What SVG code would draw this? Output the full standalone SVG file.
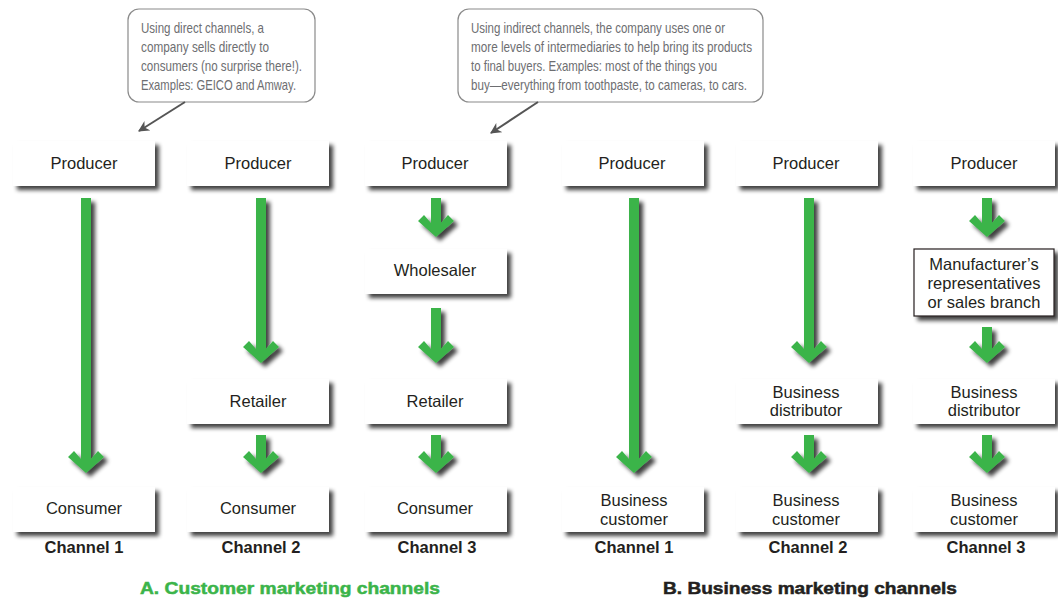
<svg xmlns="http://www.w3.org/2000/svg" width="1058" height="599" viewBox="0 0 1058 599">
<defs>
<filter id="sh" x="-20%" y="-30%" width="150%" height="180%">
<feGaussianBlur in="SourceAlpha" stdDeviation="2"/>
<feOffset dx="4" dy="4" result="b"/>
<feComponentTransfer><feFuncA type="linear" slope="0.75"/></feComponentTransfer>
<feMerge><feMergeNode/><feMergeNode in="SourceGraphic"/></feMerge>
</filter>
<marker id="ptr" viewBox="0 0 10 10" refX="9" refY="5" markerWidth="11" markerHeight="11" orient="auto" markerUnits="userSpaceOnUse">
<path d="M0,0 L10,5 L0,10 L3,5 Z" fill="#555"/>
</marker>
</defs>
<style>
.box{fill:#fff;filter:url(#sh)}
.bx{fill:#fff;stroke:#231f20;stroke-width:1.2;filter:url(#sh)}
.t{font-family:"Liberation Sans",Arial,sans-serif;font-size:16.5px;fill:#231f20;text-anchor:middle}
.ch{font-family:"Liberation Sans",Arial,sans-serif;font-size:16.5px;font-weight:bold;fill:#231f20;text-anchor:middle}
.ttl{font-family:"Liberation Sans",Arial,sans-serif;font-size:17px;font-weight:bold}
.call{fill:#fff;stroke:#8a8a8a;stroke-width:1.2}
.ct{font-family:"Liberation Sans Narrow","Liberation Sans",Arial,sans-serif;font-size:14.5px;fill:#6d6e71}
.ar{fill:#3bb44a;filter:url(#sh)}
.pl{stroke:#555;stroke-width:2;fill:none}
</style>

<g id="callout-direct">
<rect class="call" x="128" y="9" width="187" height="93" rx="11"/>
<text class="ct" x="141" y="33" textLength="123" lengthAdjust="spacingAndGlyphs">Using direct channels, a</text>
<text class="ct" x="141" y="52" textLength="128" lengthAdjust="spacingAndGlyphs">company sells directly to</text>
<text class="ct" x="141" y="71" textLength="161" lengthAdjust="spacingAndGlyphs">consumers (no surprise there!).</text>
<text class="ct" x="141" y="90" textLength="155" lengthAdjust="spacingAndGlyphs">Examples: GEICO and Amway.</text>
</g>
<g id="callout-indirect">
<rect class="call" x="458" y="9" width="305" height="93" rx="11"/>
<text class="ct" x="471" y="33" textLength="254" lengthAdjust="spacingAndGlyphs">Using indirect channels, the company uses one or</text>
<text class="ct" x="471" y="52" textLength="281" lengthAdjust="spacingAndGlyphs">more levels of intermediaries to help bring its products</text>
<text class="ct" x="471" y="71" textLength="246" lengthAdjust="spacingAndGlyphs">to final buyers. Examples: most of the things you</text>
<text class="ct" x="471" y="90" textLength="276" lengthAdjust="spacingAndGlyphs">buy—everything from toothpaste, to cameras, to cars.</text>
</g>

<g id="connectors">
<line class="pl" x1="185" y1="102" x2="139" y2="131" marker-end="url(#ptr)"/>
<line class="pl" x1="538" y1="102" x2="491" y2="133" marker-end="url(#ptr)"/>
<path class="ar" transform="translate(86,473)" d="M-5,-275 L5,-275 L5,-14 L12,-22 L18,-16 L0,0 L-18,-16 L-12,-22 L-5,-14 Z"/>
<path class="ar" transform="translate(261,363)" d="M-5,-165 L5,-165 L5,-14 L12,-22 L18,-16 L0,0 L-18,-16 L-12,-22 L-5,-14 Z"/>
<path class="ar" transform="translate(261,473)" d="M-5,-38 L5,-38 L5,-14 L12,-22 L18,-16 L0,0 L-18,-16 L-12,-22 L-5,-14 Z"/>
<path class="ar" transform="translate(436,237)" d="M-5,-39 L5,-39 L5,-14 L12,-22 L18,-16 L0,0 L-18,-16 L-12,-22 L-5,-14 Z"/>
<path class="ar" transform="translate(436,363)" d="M-5,-55 L5,-55 L5,-14 L12,-22 L18,-16 L0,0 L-18,-16 L-12,-22 L-5,-14 Z"/>
<path class="ar" transform="translate(436,473)" d="M-5,-38 L5,-38 L5,-14 L12,-22 L18,-16 L0,0 L-18,-16 L-12,-22 L-5,-14 Z"/>
<path class="ar" transform="translate(634,473)" d="M-5,-275 L5,-275 L5,-14 L12,-22 L18,-16 L0,0 L-18,-16 L-12,-22 L-5,-14 Z"/>
<path class="ar" transform="translate(809,363)" d="M-5,-165 L5,-165 L5,-14 L12,-22 L18,-16 L0,0 L-18,-16 L-12,-22 L-5,-14 Z"/>
<path class="ar" transform="translate(809,473)" d="M-5,-38 L5,-38 L5,-14 L12,-22 L18,-16 L0,0 L-18,-16 L-12,-22 L-5,-14 Z"/>
<path class="ar" transform="translate(987,237)" d="M-5,-39 L5,-39 L5,-14 L12,-22 L18,-16 L0,0 L-18,-16 L-12,-22 L-5,-14 Z"/>
<path class="ar" transform="translate(987,363)" d="M-5,-36 L5,-36 L5,-14 L12,-22 L18,-16 L0,0 L-18,-16 L-12,-22 L-5,-14 Z"/>
<path class="ar" transform="translate(987,473)" d="M-5,-38 L5,-38 L5,-14 L12,-22 L18,-16 L0,0 L-18,-16 L-12,-22 L-5,-14 Z"/>
</g>

<g id="a1-producer"><rect class="box" x="13" y="141" width="142" height="45"/><text class="t" x="84" y="169">Producer</text></g>
<g id="a2-producer"><rect class="box" x="187" y="141" width="142" height="45"/><text class="t" x="258" y="169">Producer</text></g>
<g id="a3-producer"><rect class="box" x="365" y="141" width="142" height="45"/><text class="t" x="435" y="169">Producer</text></g>
<g id="b1-producer"><rect class="box" x="562" y="141" width="142" height="45"/><text class="t" x="632" y="169">Producer</text></g>
<g id="b2-producer"><rect class="box" x="736" y="141" width="142" height="45"/><text class="t" x="806" y="169">Producer</text></g>
<g id="b3-producer"><rect class="box" x="913" y="141" width="142" height="45"/><text class="t" x="984" y="169">Producer</text></g>

<g id="a3-wholesaler"><rect class="box" x="365" y="249" width="142" height="45"/><text class="t" x="435" y="276">Wholesaler</text></g>
<g id="b3-manufacturer"><rect class="bx" x="914" y="249" width="140" height="67"/>
<text class="t" x="984" y="270">Manufacturer’s</text>
<text class="t" x="984" y="289">representatives</text>
<text class="t" x="984" y="308">or sales branch</text></g>

<g id="a2-retailer"><rect class="box" x="187" y="379" width="142" height="45"/><text class="t" x="258" y="407">Retailer</text></g>
<g id="a3-retailer"><rect class="box" x="365" y="379" width="142" height="45"/><text class="t" x="435" y="407">Retailer</text></g>
<g id="b2-distributor"><rect class="box" x="736" y="379" width="142" height="45"/><text class="t" x="806" y="398">Business</text><text class="t" x="806" y="416">distributor</text></g>
<g id="b3-distributor"><rect class="box" x="913" y="379" width="142" height="45"/><text class="t" x="984" y="398">Business</text><text class="t" x="984" y="416">distributor</text></g>

<g id="a1-consumer"><rect class="box" x="13" y="487" width="142" height="45"/><text class="t" x="84" y="514">Consumer</text></g>
<g id="a2-consumer"><rect class="box" x="187" y="487" width="142" height="45"/><text class="t" x="258" y="514">Consumer</text></g>
<g id="a3-consumer"><rect class="box" x="365" y="487" width="142" height="45"/><text class="t" x="435" y="514">Consumer</text></g>
<g id="b1-customer"><rect class="box" x="562" y="487" width="142" height="45"/><text class="t" x="634" y="506">Business</text><text class="t" x="634" y="525">customer</text></g>
<g id="b2-customer"><rect class="box" x="736" y="487" width="142" height="45"/><text class="t" x="806" y="506">Business</text><text class="t" x="806" y="525">customer</text></g>
<g id="b3-customer"><rect class="box" x="913" y="487" width="142" height="45"/><text class="t" x="984" y="506">Business</text><text class="t" x="984" y="525">customer</text></g>

<g id="labels">
<text class="ch" x="84" y="553">Channel 1</text>
<text class="ch" x="261" y="553">Channel 2</text>
<text class="ch" x="437" y="553">Channel 3</text>
<text class="ch" x="634" y="553">Channel 1</text>
<text class="ch" x="808" y="553">Channel 2</text>
<text class="ch" x="986" y="553">Channel 3</text>
<text class="ttl" x="140" y="594" fill="#3bb44a" stroke="#3bb44a" stroke-width="0.5" textLength="300" lengthAdjust="spacingAndGlyphs">A. Customer marketing channels</text>
<text class="ttl" x="663" y="594" fill="#231f20" stroke="#231f20" stroke-width="0.5" textLength="294" lengthAdjust="spacingAndGlyphs">B. Business marketing channels</text>
</g>
</svg>
